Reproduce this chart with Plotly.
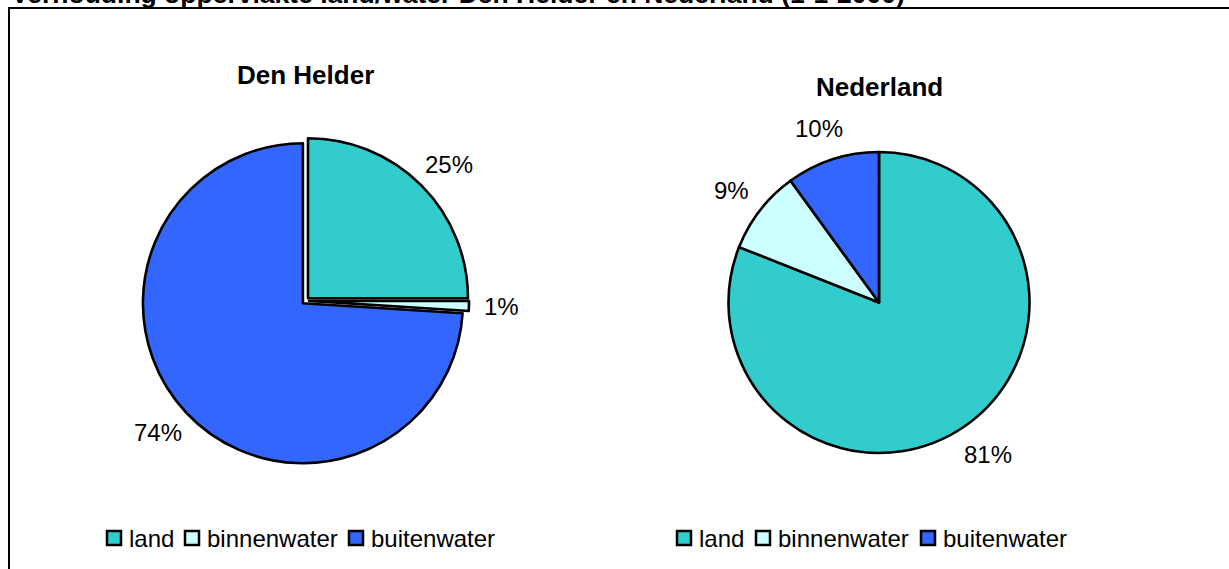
import math
import plotly.graph_objects as go

W, H = 1229, 569

# ---- data ----
categories = ["land", "binnenwater", "buitenwater"]
den_helder = [25, 1, 74]
nederland = [81, 9, 10]
colors = ["#33CCCC", "#CCFFFF", "#3366FF"]
chart_title = "Verhouding oppervlakte land/water Den Helder en Nederland (1-1-2000)"
pie_titles = ["Den Helder", "Nederland"]

FONT = "Liberation Sans, Arial, sans-serif"


def px(x):
    return x / W


def py(y):
    return 1 - y / H


# layout geometry in pixels
left = dict(cx=305.5, cy=300.8, r=160, pull=0.022, title_y=75, leg_boxes=[107, 185, 349])
right = dict(cx=879, cy=302.5, r=150.5, pull=0.0, title_y=87, leg_boxes=[677, 756, 921])
LEG_Y = 538
BOX = 15


def domain(g):
    half = g["r"] * (1 + g["pull"])
    return dict(x=[px(g["cx"] - half), px(g["cx"] + half)],
                y=[py(g["cy"] + half), py(g["cy"] - half)])


def label_annots(values, g, gap=19, fs=24):
    total = sum(values)
    out = []
    cum = 0
    for v in values:
        m = (cum + v / 2) / total
        cum += v
        th = 2 * math.pi * m
        ux, uy = math.sin(th), -math.cos(th)
        txt = f"{round(100 * v / total)}%"
        w = fs * (0.556 * (len(txt) - 1) + 0.889)
        h = fs * 1.15
        d = g["r"] + gap
        x = g["cx"] + d * ux + w / 2 * ux
        y = g["cy"] + d * uy + h / 2 * uy
        out.append(dict(x=px(x), y=py(y), xref="paper", yref="paper", text=txt,
                        showarrow=False, xanchor="center", yanchor="middle",
                        font=dict(size=fs, color="black", family=FONT)))
    return out


fig = go.Figure()
for vals, g in [(den_helder, left), (nederland, right)]:
    fig.add_trace(go.Pie(
        labels=categories, values=vals, sort=False, direction="clockwise", rotation=0,
        marker=dict(colors=colors, line=dict(color="black", width=2.6)),
        pull=[g["pull"]] * len(vals), textinfo="none", domain=domain(g),
        showlegend=False,
    ))

annots = []
shapes = [dict(type="rect", xref="paper", yref="paper", x0=px(9), x1=1.05, y0=py(8), y1=-0.05,
               line=dict(color="black", width=2), fillcolor="rgba(0,0,0,0)")]

annots.append(dict(x=px(9), y=py(11), xref="paper", yref="paper", text=f"<b>{chart_title}</b>",
                   showarrow=False, xanchor="left", yanchor="bottom",
                   font=dict(size=26.5, color="black", family=FONT)))
for t, g in zip(pie_titles, [left, right]):
    annots.append(dict(x=px(g["cx"]), y=py(g["title_y"]), xref="paper", yref="paper",
                       text=f"<b>{t}</b>", showarrow=False, xanchor="center", yanchor="middle",
                       font=dict(size=26, color="black", family=FONT)))
annots += label_annots(den_helder, left)
annots += label_annots(nederland, right)

# legends (one under each pie)
for g in [left, right]:
    for cat, col, bx in zip(categories, colors, g["leg_boxes"]):
        shapes.append(dict(type="rect", xref="paper", yref="paper",
                           x0=px(bx), x1=px(bx + BOX - 1), y0=py(LEG_Y + 7), y1=py(LEG_Y - 7),
                           line=dict(color="black", width=2.5), fillcolor=col))
        annots.append(dict(x=px(bx + BOX + 5), y=py(LEG_Y), xref="paper", yref="paper",
                           text=cat, showarrow=False, xanchor="left", yanchor="middle",
                           font=dict(size=24, color="black", family=FONT)))

fig.update_layout(
    width=W, height=H, margin=dict(l=0, r=0, t=0, b=0),
    paper_bgcolor="white", plot_bgcolor="white",
    font=dict(family=FONT, color="black"),
    annotations=annots,
    shapes=shapes,
    showlegend=False,
)

fig.write_html("out.html", config={"displayModeBar": False},
               post_script="document.body.style.margin='0';")
